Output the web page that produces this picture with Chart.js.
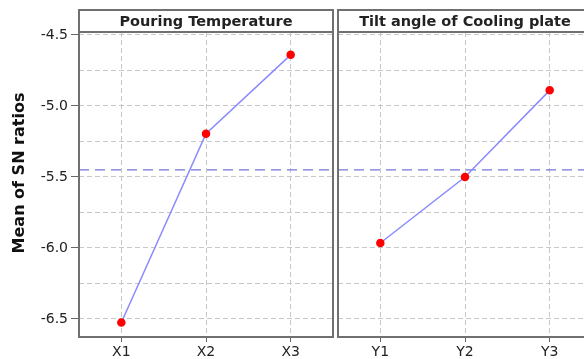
<!DOCTYPE html>
<html><head><meta charset="utf-8">
<script src="https://cdn.jsdelivr.net/npm/chart.js@4"></script>
<style>
html,body{margin:0;padding:0;background:#fff;overflow:hidden;width:584px;height:359px}
#wrap{position:relative;width:584px;height:359px;overflow:hidden}
.c{position:absolute;top:0}
#left{left:0}
#right{left:335px}
</style></head><body>
<div id="wrap">
<div class="c" id="left"><canvas id="c1" width="336" height="359"></canvas></div>
<div class="c" id="right"><canvas id="c2" width="257" height="359"></canvas></div>
</div>
<script>
const panelTitles = ['Pouring Temperature', 'Tilt angle of Cooling plate'];
const factorALevels = ['X1', 'X2', 'X3'];
const factorAMeans = [-6.525, -5.195, -4.64];
const factorBLevels = ['Y1', 'Y2', 'Y3'];
const factorBMeans = [-5.965, -5.5, -4.89];
const grandMean = -5.45;
const yTicks = [-6.5, -6.25, -6.0, -5.75, -5.5, -5.25, -5.0, -4.75, -4.5];
const yMin = -6.627, yMax = -4.479;
const yTitle = 'Mean of SN ratios';

const FONT = '"DejaVu Sans", Verdana, sans-serif';
const isMajor = v => Math.abs(v * 2 - Math.round(v * 2)) < 1e-6;

const panelPlugin = {
  id: 'panel',
  beforeDatasetsDraw(chart, args, opts) {
    const {ctx, chartArea: a, scales: {y}} = chart;
    const py = y.getPixelForValue(grandMean);
    ctx.save();
    ctx.strokeStyle = '#7676d8';
    ctx.lineWidth = 1.2;
    ctx.setLineDash([10, 6]);
    ctx.beginPath(); ctx.moveTo(a.left, py); ctx.lineTo(a.right, py); ctx.stroke();
    ctx.restore();
  },
  afterDraw(chart, args, opts) {
    const {ctx, chartArea: a} = chart;
    ctx.save();
    ctx.strokeStyle = '#707070';
    ctx.lineWidth = 2;
    ctx.strokeRect(a.left, a.top, a.right - a.left, a.bottom - a.top);
    ctx.strokeRect(a.left, 10, a.right - a.left, a.top - 10);
    ctx.fillStyle = '#222';
    ctx.font = 'bold 14.5px ' + FONT;
    ctx.textAlign = 'center';
    ctx.textBaseline = 'middle';
    ctx.fillText(opts.title, (a.left + a.right) / 2, (10 + a.top) / 2 + 1);
    if (opts.yTitle) {
      ctx.translate(20, 173);
      ctx.rotate(-Math.PI / 2);
      ctx.font = 'bold 16px ' + FONT;
      ctx.fillStyle = '#111';
      ctx.fillText(opts.yTitle, 0, 0);
    }
    ctx.restore();
  }
};

function makeChart(id, labels, data, title, isLeft) {
  return new Chart(document.getElementById(id), {
    type: 'line',
    data: {labels, datasets: [{
      data, borderColor: '#8a8aff', borderWidth: 1.5,
      pointBackgroundColor: '#ff0000', pointBorderColor: '#ff0000',
      pointRadius: 3.5, pointHoverRadius: 3.5, tension: 0
    }]},
    options: {
      responsive: false, animation: false, events: [],
      layout: {autoPadding: false, padding: {top: 32, right: isLeft ? 3 : 0, left: isLeft ? 0 : 3, bottom: 0}},
      plugins: {legend: {display: false}, tooltip: {enabled: false},
        panel: {title, yTitle: isLeft ? yTitle : null}},
      scales: {
        x: {
          type: 'category', offset: true,
          grid: {offset: false, color: '#c8c8c8', tickColor: '#666', tickLength: 5},
          border: {display: false, dash: [5, 3]},
          ticks: {color: '#222', font: {family: FONT, size: 14}, padding: 2, maxRotation: 0},
          afterFit(s) { s.height = 22; }
        },
        y: {
          min: yMin, max: yMax,
          afterBuildTicks(s) { s.ticks = yTicks.map(v => ({value: v})); },
          grid: {color: '#c8c8c8', drawTicks: isLeft, tickLength: 8,
            tickColor: c => (c.tick && isMajor(c.tick.value)) ? '#666' : 'rgba(0,0,0,0)'},
          border: {display: false, dash: [5, 3]},
          ticks: {display: isLeft, color: '#222', font: {family: FONT, size: 14}, padding: 3,
            callback: v => isMajor(v) ? v.toFixed(1) : ''},
          afterFit(s) { s.width = isLeft ? 79 : 0; }
        }
      }
    },
    plugins: [panelPlugin]
  });
}

makeChart('c1', factorALevels, factorAMeans, panelTitles[0], true);
makeChart('c2', factorBLevels, factorBMeans, panelTitles[1], false);
</script>
</body></html>
